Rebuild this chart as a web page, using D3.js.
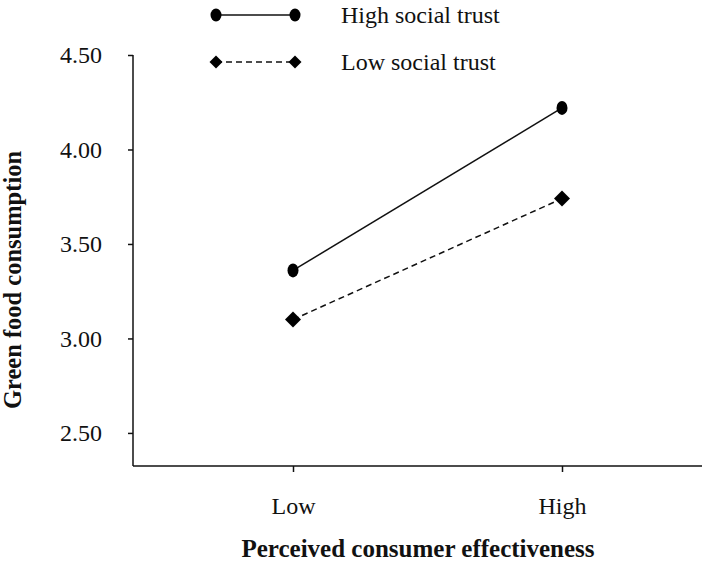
<!DOCTYPE html>
<html>
<head>
<meta charset="utf-8">
<script src="https://cdn.jsdelivr.net/npm/d3@7"></script>
<style>
  html, body { margin: 0; padding: 0; background: #fff; }
  svg { display: block; font-family: "Liberation Serif", "Times New Roman", serif; }
</style>
</head>
<body>
<svg id="chart" width="704" height="566"></svg>
<script>
// Data
const categories = ["Low", "High"];
const seriesNames = ["High social trust", "Low social trust"];
const highTrust = [3.36, 4.22];
const lowTrust = [3.10, 3.74];
const yTicks = [2.50, 3.00, 3.50, 4.00, 4.50];
const xTitle = "Perceived consumer effectiveness";
const yTitle = "Green food consumption";

const svg = d3.select("#chart");
const axisLeftX = 133, axisRightX = 702, axisTopY = 55, axisBottomY = 466;

const x = d3.scalePoint().domain(categories).range([293, 562]);
const y = d3.scaleLinear().domain([2.325, 4.5]).range([axisBottomY, axisTopY]);

const ink = "#111";

// Y axis
const yAxis = d3.axisLeft(y).tickValues(yTicks).tickFormat(d3.format(".2f")).tickSize(5).tickPadding(26).tickSizeOuter(0);
const gy = svg.append("g").attr("transform", `translate(${axisLeftX},0)`).call(yAxis);
gy.select(".domain").remove();
gy.selectAll(".tick line").attr("stroke", ink).attr("stroke-width", 1.5);
gy.selectAll(".tick text").attr("font-size", 24).attr("fill", ink)
  .attr("font-family", '"Liberation Serif", "Times New Roman", serif');
svg.append("line").attr("x1", axisLeftX).attr("x2", axisLeftX)
  .attr("y1", axisTopY).attr("y2", axisBottomY).attr("stroke", ink).attr("stroke-width", 1.5);

// X axis
const xAxis = d3.axisBottom(x).tickSize(6).tickPadding(25).tickSizeOuter(0);
const gx = svg.append("g").attr("transform", `translate(0,${axisBottomY})`).call(xAxis);
gx.select(".domain").remove();
gx.selectAll(".tick line").attr("stroke", ink).attr("stroke-width", 1.5);
gx.selectAll(".tick text").attr("font-size", 24).attr("fill", ink)
  .attr("font-family", '"Liberation Serif", "Times New Roman", serif');
svg.append("line").attr("x1", axisLeftX).attr("x2", axisRightX)
  .attr("y1", axisBottomY).attr("y2", axisBottomY).attr("stroke", ink).attr("stroke-width", 1.5);

// Titles
svg.append("text").attr("x", 418).attr("y", 557).attr("text-anchor", "middle")
  .attr("font-size", 25).attr("font-weight", "bold").attr("fill", ink).text(xTitle);
svg.append("text").attr("transform", "translate(21,280) rotate(-90)").attr("text-anchor", "middle")
  .attr("font-size", 24.5).attr("font-weight", "bold").attr("fill", ink).text(yTitle);

// Lines
const line = d3.line().x((d, i) => x(categories[i])).y(d => y(d));
svg.append("path").datum(highTrust).attr("d", line).attr("fill", "none")
  .attr("stroke", ink).attr("stroke-width", 1.5);
svg.append("path").datum(lowTrust).attr("d", line).attr("fill", "none")
  .attr("stroke", ink).attr("stroke-width", 1.5).attr("stroke-dasharray", "6,4");

const diamond = (cx, cy, r) => `M${cx},${cy - r}L${cx + r},${cy}L${cx},${cy + r}L${cx - r},${cy}Z`;

svg.selectAll(".ptHigh").data(highTrust).enter().append("ellipse")
  .attr("cx", (d, i) => x(categories[i])).attr("cy", d => y(d))
  .attr("rx", 5.5).attr("ry", 7).attr("fill", "#000");
svg.selectAll(".ptLow").data(lowTrust).enter().append("path")
  .attr("d", (d, i) => diamond(x(categories[i]), y(d), 8)).attr("fill", "#000");

// Legend
const legY = [15, 62];
const legX1 = 216, legX2 = 295;
const lg = svg.append("g");
lg.append("line").attr("x1", legX1).attr("x2", legX2).attr("y1", legY[0]).attr("y2", legY[0])
  .attr("stroke", ink).attr("stroke-width", 1.5);
[legX1, legX2].forEach(cx => lg.append("ellipse").attr("cx", cx).attr("cy", legY[0])
  .attr("rx", 5.5).attr("ry", 6.5).attr("fill", "#000"));
lg.append("line").attr("x1", legX1).attr("x2", legX2).attr("y1", legY[1]).attr("y2", legY[1])
  .attr("stroke", ink).attr("stroke-width", 1.5).attr("stroke-dasharray", "6,4");
[legX1, legX2].forEach(cx => lg.append("path").attr("d", diamond(cx, legY[1], 6.5)).attr("fill", "#000"));
seriesNames.forEach((n, i) => lg.append("text").attr("x", 341).attr("y", legY[i] + 8)
  .attr("font-size", 24).attr("fill", ink).text(n));
</script>
</body>
</html>
